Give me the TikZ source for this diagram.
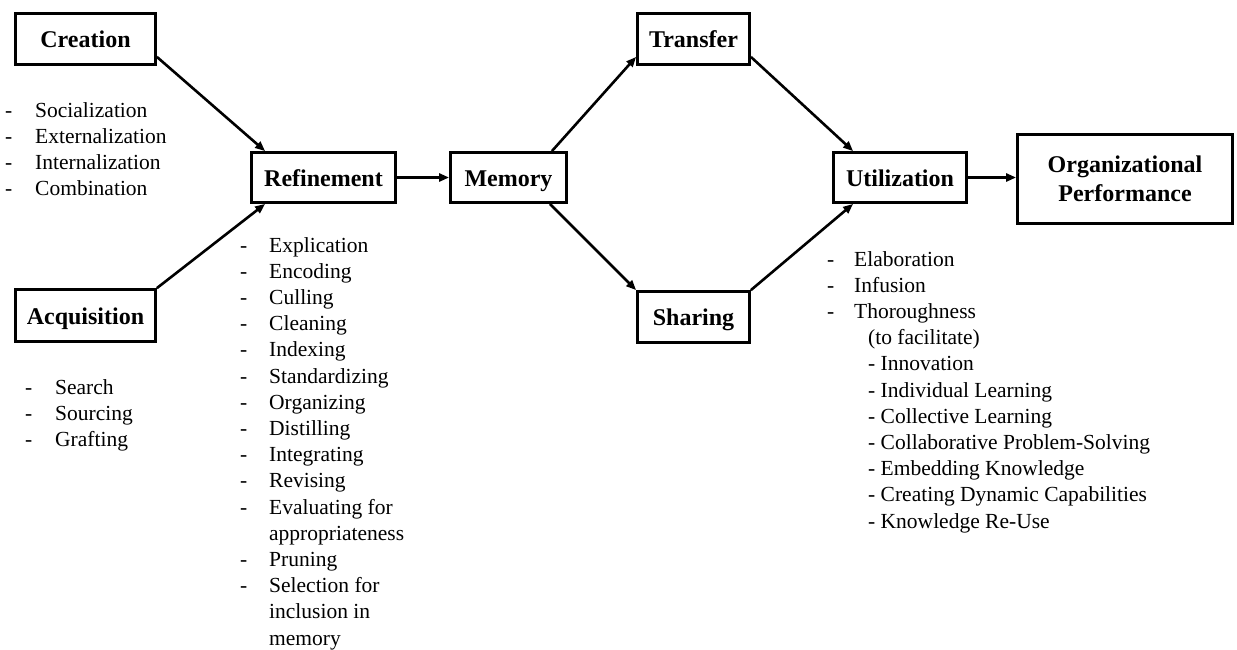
\documentclass[tikz,border=0pt]{standalone}
\usepackage{fontspec}
\setmainfont{Liberation Serif}
\usetikzlibrary{arrows.meta}
\tikzset{
  box/.style={draw, line width=2.8pt, font=\fontsize{24}{29}\selectfont\bfseries, inner sep=0pt, align=center},
  one/.style={text height=17.5pt, text depth=0pt},
  conn/.style={line width=2.6pt, -{Triangle[length=10pt,width=8pt]}},
  lst/.style={font=\fontsize{21.5}{26.2}\selectfont, inner sep=0pt, anchor=base west}
}
\begin{document}
\begin{tikzpicture}[x=1pt,y=-1pt]
\useasboundingbox[fill=white] (0,0) rectangle (1237,649);
% boxes
\node[box, one, minimum width=140pt, minimum height=51pt] (cre) at (85.5,39) {Creation};
\node[box, one, minimum width=140pt, minimum height=52pt] (acq) at (85.5,315.5) {Acquisition};
\node[box, one, minimum width=144pt, minimum height=50pt] (ref) at (323.5,177.5) {Refinement};
\node[box, one, minimum width=116pt, minimum height=50pt] (mem) at (508.5,177.5) {Memory};
\node[box, one, minimum width=112pt, minimum height=51pt] (tra) at (693.5,39) {Transfer};
\node[box, one, minimum width=112pt, minimum height=51pt] (sha) at (693.5,317) {Sharing};
\node[box, one, minimum width=133pt, minimum height=50pt] (uti) at (900,177.5) {Utilization};
\node[box, minimum width=215pt, minimum height=89pt] (op) at (1125,179) {Organizational\\Performance};
% connectors
\draw[conn] ([yshift=9pt]cre.south east) -- ([xshift=15pt]ref.north west);
\draw[conn] (acq.north east) -- ([xshift=15pt]ref.south west);
\draw[conn] (ref.east) -- (mem.west);
\draw[conn] ([xshift=-16pt]mem.north east) -- ([yshift=9pt]tra.south west);
\draw[conn] ([xshift=-18pt]mem.south east) -- (sha.north west);
\draw[conn] ([yshift=9pt]tra.south east) -- ([xshift=21pt]uti.north west);
\draw[conn] (sha.north east) -- ([xshift=21pt]uti.south west);
\draw[conn] (uti.east) -- (uti.east -| op.west);
% lists
\node[lst] (crl) at (5,117) {\begin{tabular}[t]{@{}p{30pt}@{}l@{}}
-&Socialization\\-&Externalization\\-&Internalization\\-&Combination\end{tabular}};
\node[lst] (acl) at (25,394) {\begin{tabular}[t]{@{}p{30pt}@{}l@{}}
-&Search\\-&Sourcing\\-&Grafting\end{tabular}};
\node[lst] (rel) at (240,252) {\begin{tabular}[t]{@{}p{29pt}@{}l@{}}
-&Explication\\-&Encoding\\-&Culling\\-&Cleaning\\-&Indexing\\-&Standardizing\\
-&Organizing\\-&Distilling\\-&Integrating\\-&Revising\\-&Evaluating for\\
&appropriateness\\-&Pruning\\-&Selection for\\&inclusion in\\&memory\end{tabular}};
\node[lst] (utl) at (827,266) {\begin{tabular}[t]{@{}p{27pt}@{}l@{}}
-&Elaboration\\-&Infusion\\-&Thoroughness\\
&\hspace*{14pt}(to facilitate)\\
&\hspace*{14pt}- Innovation\\
&\hspace*{14pt}- Individual Learning\\
&\hspace*{14pt}- Collective Learning\\
&\hspace*{14pt}- Collaborative Problem-Solving\\
&\hspace*{14pt}- Embedding Knowledge\\
&\hspace*{14pt}- Creating Dynamic Capabilities\\
&\hspace*{14pt}- Knowledge Re-Use\end{tabular}};
\end{tikzpicture}
\end{document}
